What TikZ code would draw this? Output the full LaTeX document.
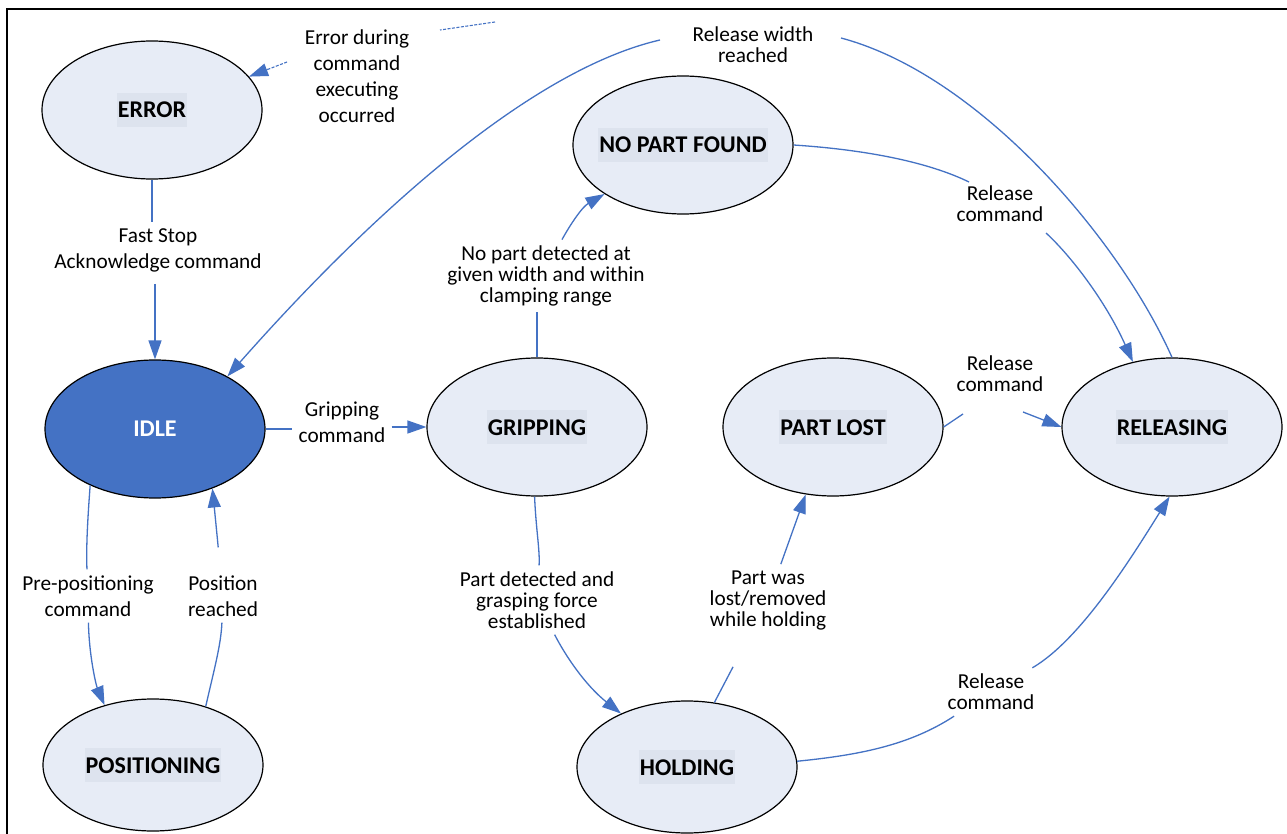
\documentclass[tikz,border=0pt]{standalone}
\usepackage{fontspec}
\setmainfont{Carlito}
\usetikzlibrary{shapes.geometric,arrows.meta,calc}
\definecolor{cblue}{HTML}{4472C4}
\definecolor{stfill}{HTML}{E7ECF6}
\definecolor{hlbox}{HTML}{DDE3EE}
\newcommand\stlabel[1]{{\setlength\fboxsep{1pt}\colorbox{hlbox}{\rule[-8pt]{0pt}{32pt}#1}}}
\begin{document}
\begin{tikzpicture}[x=1pt,y=-1pt,
  state/.style={ellipse,draw=black,line width=1.2pt,fill=stfill,minimum width=220pt,minimum height=138pt,inner sep=-30pt,font=\fontsize{24}{29}\selectfont\bfseries},
  lowstate/.style={state,minimum height=132pt},
  lbl/.style={align=center,inner sep=6pt,font=\fontsize{21.3}{26}\selectfont},
  lblt/.style={align=center,inner sep=6pt,font=\fontsize{21.3}{21}\selectfont},
  conn/.style={draw=cblue,line width=1.3pt},
  arr/.style={-{Triangle[length=19pt,width=13pt]}},
  dconn/.style={conn,line width=1.1pt,dash pattern=on 3pt off 1.5pt},
]
\useasboundingbox (0,0) rectangle (1287,834);
\fill[white] (0,0) rectangle (1287,834);
\draw[line width=2.5pt] (7,834) -- (7,9) -- (1287,9);

% states
\node[state] (error) at (152,110) {\stlabel{ERROR}};
\node[state,fill=cblue,text=white] (idle) at (155,429) {IDLE};
\node[lowstate] (posi) at (153,765) {\stlabel{POSITIONING}};
\node[state] (grip) at (537,427) {\stlabel{GRIPPING}};
\node[state] (npf) at (683,145) {\stlabel{NO PART FOUND}};
\node[state] (lost) at (833,427) {\stlabel{PART LOST}};
\node[state] (rel) at (1172,427) {\stlabel{RELEASING}};
\node[lowstate] (hold) at (687,767) {\stlabel{HOLDING}};

% labels
\node[lbl] (errlbl) at (357,76) {Error during\\command\\executing\\occurred};
\node[lbl] (fastlbl) at (158,250) {Fast Stop\\Acknowledge command};
\node[lbl] (griplbl) at (342,422) {Gripping\\command};
\node[lbl] (prelbl) at (88,596) {Pre-positioning\\command};
\node[lbl] (poslbl) at (223,596) {Position\\reached};
\node[lblt] (nplbl) at (546,276) {No part detected at\\given width and within\\clamping range};
\node[lblt] (pdlbl) at (537,600) {Part detected and\\grasping force\\established};
\node[lblt] (lostlbl) at (768,600) {Part was\\lost/removed\\while holding};
\node[lblt] (rel1lbl) at (1000,204) {Release\\command};
\node[lblt] (rel2lbl) at (1000,374) {Release\\command};
\node[lblt] (rel3lbl) at (991,692) {Release\\command};
\node[lblt] (rwlbl) at (753,45) {Release width\\reached};

% error during command -> ERROR (dashed)
\coordinate (errsrc) at (495,22);
\coordinate (errtip) at (error.19.5);
\coordinate (errb) at ([shift={(-70,-14)}]errlbl.center);
\draw[dconn] (errsrc) -- ([shift={(83,-46)}]errlbl.center);
\draw[dconn,shorten >=16pt] (errb) -- (errtip);
\draw[conn,line width=1.1pt,arr] ($(errtip)!20pt!(errb)$) -- (errtip);
% ERROR -> IDLE
\draw[conn] (error.south) -- (error.south |- fastlbl.north);
\draw[conn,arr,shorten <=6pt] (idle.north |- fastlbl.south) -- (idle.north);
% IDLE -> GRIPPING
\draw[conn] (idle.east) -- (idle.east -| griplbl.west);
\draw[conn,arr] (griplbl.east |- grip.west) -- (grip.west);
% IDLE -> POSITIONING
\draw[conn] (idle.-139) .. controls (88,515) and (86,545) .. (prelbl);
\draw[conn,arr] (prelbl) .. controls (89,655) and (96,685) .. (posi.129);
% POSITIONING -> IDLE
\draw[conn] (posi.48) .. controls (214,670) and (221,645) .. (poslbl);
\draw[conn,arr,shorten <=22pt] (poslbl) -- (idle.-46);
% GRIPPING -> NO PART FOUND
\draw[conn] (grip.north) -- (grip.north |- nplbl.south);
\draw[conn,arr] ([xshift=16pt]nplbl.north) .. controls (570,225) and (582,207) .. (npf.-148);
% GRIPPING -> HOLDING
\draw[conn] (grip.-92) .. controls (536,530) and (540,550) .. (pdlbl);
\draw[conn,arr] (pdlbl) .. controls (565,655) and (585,685) .. (hold.141);
% HOLDING -> PART LOST
\draw[conn,shorten >=35pt] (hold.67) -- (lostlbl);
\draw[conn,arr] (lostlbl) -- (lost.-112);
% HOLDING -> RELEASING
\draw[conn] (hold.3) .. controls (860,755) and (910,745) .. (rel3lbl);
\draw[conn,arr] (rel3lbl) .. controls (1080,640) and (1130,560) .. (rel.-92);
% PART LOST -> RELEASING
\draw[conn] (lost.east) -- ([shift={(-37,40)}]rel2lbl.center);
\draw[conn,arr] ([shift={(23,38)}]rel2lbl.center) -- (rel.west);
% NO PART FOUND -> RELEASING
\draw[conn] (npf.east) .. controls (870,150) and (930,163) .. ([shift={(-31,-22)}]rel1lbl.center);
\draw[conn,arr] ([shift={(46,29)}]rel1lbl.center) .. controls (1070,255) and (1105,300) .. (rel.121.5);
% RELEASING -> IDLE
\draw[conn] (rel.north) .. controls (1120,240) and (980,75) .. ([shift={(88,-7)}]rwlbl.center);
\draw[conn,arr] ([shift={(-93,-5)}]rwlbl.center) .. controls (530,70) and (370,215) .. (idle.36.7);
\end{tikzpicture}
\end{document}
